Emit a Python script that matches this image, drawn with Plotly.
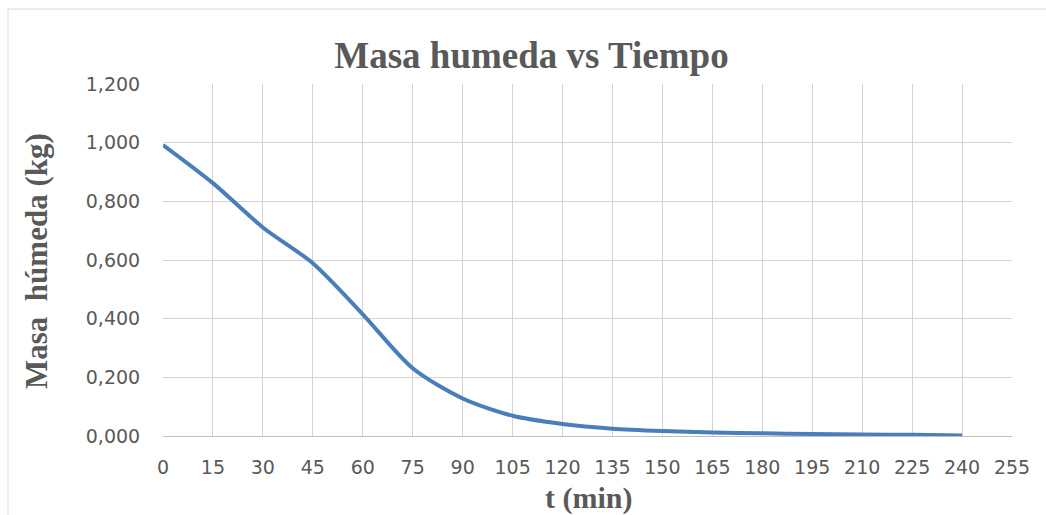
import plotly.graph_objects as go

t_min = [0, 15, 30, 45, 60, 75, 90, 105, 120, 135, 150, 165, 180, 195, 210, 225, 240]
masa_humeda = [0.992, 0.862, 0.711, 0.589, 0.415, 0.231, 0.128, 0.069, 0.041, 0.025,
               0.017, 0.012, 0.009, 0.007, 0.005, 0.004, 0.002]
x_ticks = list(range(0, 256, 15))
y_ticks = [0, 0.2, 0.4, 0.6, 0.8, 1.0, 1.2]

W, H = 1046, 515
L, R, T, B = 163, 34, 84, 79
pw, ph = W - L - R, H - T - B

def px_x(p):
    return (p - L) / pw

def px_y(p):
    return (H - B - p) / ph

fig = go.Figure()
fig.add_trace(go.Scatter(
    x=t_min, y=masa_humeda, mode="lines",
    line=dict(color="#4A7EBB", width=4, shape="spline", smoothing=0.8),
    showlegend=False, hoverinfo="x+y",
))

tickfont = dict(family="DejaVu Sans", size=19, color="#595959")
fig.update_layout(
    width=W, height=H,
    margin=dict(l=L, r=R, t=T, b=B),
    paper_bgcolor="white", plot_bgcolor="white",
    separators=",.",
    title=dict(text="<b>Masa humeda vs Tiempo</b>",
               font=dict(family="Liberation Serif", size=37, color="#595959"),
               x=531.5 / W, xanchor="center", xref="container",
               y=1 - 55 / H, yanchor="middle", yref="container"),
    xaxis=dict(range=[0, 255], tickvals=x_ticks, ticktext=[str(v) for v in x_ticks],
               showgrid=True, gridcolor="#D4D4D4", gridwidth=1.3,
               zeroline=False, showline=True, linecolor="#BFBFBF", linewidth=1.3,
               ticks="outside", ticklen=14, tickcolor="rgba(0,0,0,0)",
               tickfont=tickfont, fixedrange=True),
    yaxis=dict(range=[0, 1.2], tickvals=y_ticks, tickformat=".3f",
               showgrid=True, gridcolor="#D4D4D4", gridwidth=1.3,
               zeroline=False, showline=False,
               ticks="outside", ticklen=18, tickcolor="rgba(0,0,0,0)",
               tickfont=tickfont, fixedrange=True),
    shapes=[dict(type="rect", xref="paper", yref="paper",
                 x0=px_x(8), x1=px_x(W + 20), y0=px_y(H + 20), y1=px_y(9),
                 line=dict(color="#D9D9D9", width=1), fillcolor="rgba(0,0,0,0)",
                 layer="below")],
    annotations=[
        dict(text="<b>t (min)</b>", xref="paper", yref="paper",
             x=px_x(588), y=px_y(498), xanchor="center", yanchor="middle",
             showarrow=False,
             font=dict(family="Liberation Serif", size=30, color="#595959")),
        dict(text="<b>Masa\u00a0\u00a0húmeda (kg)</b>", xref="paper", yref="paper",
             x=px_x(36), y=px_y(261), xanchor="center", yanchor="middle",
             textangle=-90, showarrow=False,
             font=dict(family="Liberation Serif", size=31, color="#595959")),
    ],
)

fig.write_html("out.html")
